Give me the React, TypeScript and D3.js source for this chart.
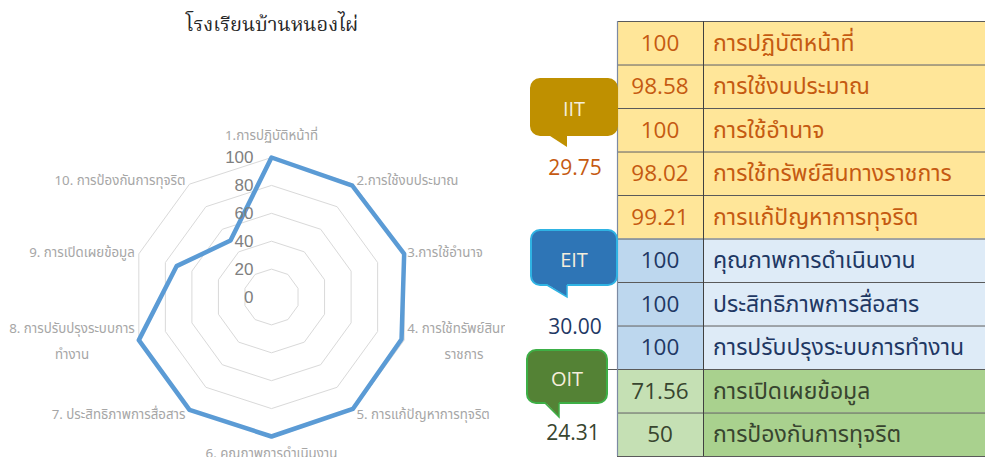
import React, { useEffect, useRef } from "react";
import * as d3 from "d3";

// ---------- data ----------
const chartTitle = "โรงเรียนบ้านหนองไผ่";
const categoryLines: string[][] = [
  ["1.การปฏิบัติหน้าที่"],
  ["2.การใช้งบประมาณ"],
  ["3.การใช้อำนาจ"],
  ["4. การใช้ทรัพย์สินทาง", "ราชการ"],
  ["5. การแก้ปัญหาการทุจริต"],
  ["6. คุณภาพการดำเนินงาน"],
  ["7. ประสิทธิภาพการสื่อสาร"],
  ["8. การปรับปรุงระบบการ", "ทำงาน"],
  ["9. การเปิดเผยข้อมูล"],
  ["10. การป้องกันการทุจริต"],
];
const scores = [100, 98.58, 100, 98.02, 99.21, 100, 100, 100, 71.56, 50];
const radialTicks = [0, 20, 40, 60, 80, 100];

const tableValues = ["100", "98.58", "100", "98.02", "99.21", "100", "100", "100", "71.56", "50"];
const tableLabels = [
  "การปฏิบัติหน้าที่",
  "การใช้งบประมาณ",
  "การใช้อำนาจ",
  "การใช้ทรัพย์สินทางราชการ",
  "การแก้ปัญหาการทุจริต",
  "คุณภาพการดำเนินงาน",
  "ประสิทธิภาพการสื่อสาร",
  "การปรับปรุงระบบการทำงาน",
  "การเปิดเผยข้อมูล",
  "การป้องกันการทุจริต",
];
const rowGroup = [0, 0, 0, 0, 0, 1, 1, 1, 2, 2];
const groupNames = ["IIT", "EIT", "OIT"];
const groupScores = ["29.75", "30.00", "24.31"];

// ---------- styles / layout ----------
const W = 985;
const H = 457;
const thaiFont = "'Noto Sans Thai', 'Noto Sans Thai UI', Tahoma, 'Leelawadee UI', 'Noto Sans', sans-serif";
const groupStyle = [
  { valFill: "#FFE699", txtFill: "#FFE699", text: "#C55A11", bubble: "#BF9000", border: "#BF9000", bx: 531, by: 79, bw: 86, bh: 56, tailX: 547, tailTipX: 567, tailTipY: 147, scoreX: 575, scoreY: 168 },
  { valFill: "#BDD7EE", txtFill: "#DEEBF7", text: "#1F3864", bubble: "#2E75B6", border: "#2FB3E3", bx: 531, by: 230, bw: 86, bh: 55, tailX: 547, tailTipX: 567, tailTipY: 297, scoreX: 575, scoreY: 327 },
  { valFill: "#C5E0B4", txtFill: "#A9D18E", text: "#38452F", bubble: "#548235", border: "#3DAF46", bx: 527, by: 350, bw: 80, bh: 53, tailX: 545, tailTipX: 559, tailTipY: 417, scoreX: 573, scoreY: 433 },
];

const cx = 271.5;
const cy = 297;
const R = 139.5;

function Radar() {
  const ref = useRef<SVGGElement>(null);
  useEffect(() => {
    const g = d3.select(ref.current);
    g.selectAll("*").remove();
    const n = scores.length;
    const r = d3.scaleLinear().domain([0, 100]).range([0, R]);
    const angle = d3.scaleLinear().domain([0, n]).range([0, 2 * Math.PI]);
    const idx = d3.range(n);

    // rings
    const ringLine = d3
      .lineRadial<number>()
      .angle((i) => angle(i))
      .curve(d3.curveLinearClosed);
    radialTicks
      .filter((t) => t > 0)
      .forEach((t) => {
        g.append("path")
          .attr("transform", `translate(${cx},${cy})`)
          .attr("d", ringLine.radius(() => r(t))(idx) as string)
          .attr("fill", "none")
          .attr("stroke", "#D9D9D9")
          .attr("stroke-width", 1);
      });

    // data line
    const dataLine = d3
      .lineRadial<number>()
      .angle((i) => angle(i))
      .radius((i) => r(scores[i]))
      .curve(d3.curveLinearClosed);
    g.append("path")
      .attr("transform", `translate(${cx},${cy})`)
      .attr("d", dataLine(idx) as string)
      .attr("fill", "none")
      .attr("stroke", "#5B9BD5")
      .attr("stroke-width", 4.5)
      .attr("stroke-linejoin", "round");

    // tick labels
    g.selectAll("text.tick")
      .data(radialTicks)
      .join("text")
      .attr("class", "tick")
      .attr("x", cx - 18)
      .attr("y", (t) => cy - r(t))
      .attr("dy", "0.35em")
      .attr("text-anchor", "end")
      .attr("font-family", "'Liberation Sans', Arial, sans-serif")
      .attr("font-size", 17)
      .attr("fill", "#7F7F7F")
      .text((t) => String(t));

    // category labels
    const lineGap = 26;
    idx.forEach((i) => {
      const a = angle(i);
      const sx = Math.sin(a);
      const cyA = Math.cos(a);
      const vx = cx + R * sx;
      const vy = cy - R * cyA;
      const lines = categoryLines[i];
      const t = g
        .append("text")
        .attr("font-family", thaiFont)
        .attr("font-size", 13.3)
        .attr("fill", "#A6A6A6");
      const spans = lines.map((ln) => t.append("tspan").text(ln));
      const widths = spans.map((s) => (s.node() as SVGTSpanElement).getComputedTextLength());
      const maxW = d3.max(widths) || 0;
      let bx: number;
      if (sx > 0.1) bx = vx + 3 + maxW / 2;
      else if (sx < -0.1) bx = vx - 4 - maxW / 2;
      else bx = vx;
      let by: number;
      if (cyA > 0.9) by = vy - 22;
      else if (cyA < -0.9) by = vy + 17;
      else by = vy - 5 * cyA;
      const y0 = by - ((lines.length - 1) * lineGap) / 2;
      spans.forEach((s, k) => {
        s.attr("x", bx).attr("y", y0 + k * lineGap).attr("dy", "0.35em").attr("text-anchor", "middle");
      });
    });
  }, []);
  return <g ref={ref} clipPath="url(#radarClip)" />;
}

export default function App() {
  const band = d3
    .scaleBand<number>()
    .domain(d3.range(tableValues.length))
    .range([21, 456])
    .paddingInner(0);
  const tableX0 = 617;
  const tableX1 = 703;
  const tableX2 = 990;

  return (
    <svg
      width={W}
      height={H}
      viewBox={`0 0 ${W} ${H}`}
      style={{ position: "absolute", left: 0, top: 0, background: "#fff" }}
    >
      <defs>
        <clipPath id="radarClip">
          <rect x={0} y={0} width={505} height={H} />
        </clipPath>
      </defs>
      <rect x={0} y={0} width={W} height={H} fill="#fff" />
      <text
        x={272}
        y={26}
        textAnchor="middle"
        dominantBaseline="middle"
        fontFamily="'Noto Serif Thai', 'Angsana New', serif"
        fontSize={20}
        fill="#262626"
      >
        {chartTitle}
      </text>
      <Radar />

      {/* table */}
      {tableValues.map((v, i) => {
        const st = groupStyle[rowGroup[i]];
        const y = band(i) as number;
        const h = band.bandwidth();
        return (
          <g key={i}>
            <rect x={tableX0} y={y} width={tableX1 - tableX0} height={h} fill={st.valFill} />
            <rect x={tableX1} y={y} width={tableX2 - tableX1} height={h} fill={st.txtFill} />
            <text
              x={(tableX0 + tableX1) / 2}
              y={y + h / 2}
              dy="0.35em"
              textAnchor="middle"
              fontFamily="'Open Sans', 'Noto Sans', sans-serif"
              fontSize={22.5}
              fill={st.text}
            >
              {v}
            </text>
            <text
              x={tableX1 + 10}
              y={y + h / 2}
              dy="0.35em"
              fontFamily={thaiFont}
              fontSize={23}
              fill={st.text}
            >
              {tableLabels[i]}
            </text>
          </g>
        );
      })}
      {/* grid lines */}
      {d3.range(tableValues.length + 1).map((i) => {
        const y = i < tableValues.length ? (band(i) as number) : 456;
        return <line key={"h" + i} x1={tableX0} x2={tableX2} y1={y + 0.5} y2={y + 0.5} stroke="#5A5A5A" strokeWidth={1} />;
      })}
      <line x1={tableX0 + 0.5} x2={tableX0 + 0.5} y1={21} y2={456} stroke="#7C8AA3" strokeWidth={1.2} />
      <line x1={tableX1 + 0.5} x2={tableX1 + 0.5} y1={21} y2={456} stroke="#404040" strokeWidth={1} />
      {/* line extending left at EIT/OIT boundary */}
      <line x1={600} x2={tableX0} y1={(band(8) as number) + 0.5} y2={(band(8) as number) + 0.5} stroke="#5A5A5A" strokeWidth={1} />

      {/* callouts */}
      {groupNames.map((name, gi) => {
        const st = groupStyle[gi];
        const bottom = st.by + st.bh;
        return (
          <g key={name}>
            <rect x={st.bx} y={st.by} width={st.bw} height={st.bh} rx={9} fill={st.bubble} stroke={st.border} strokeWidth={2} />
            <path
              d={`M${st.tailX},${bottom - 1} L${st.tailTipX},${st.tailTipY} L${st.tailTipX},${bottom - 1} Z`}
              fill={st.bubble}
            />
            <path
              d={`M${st.tailX},${bottom} L${st.tailTipX},${st.tailTipY} L${st.tailTipX},${bottom}`}
              fill="none"
              stroke={st.border}
              strokeWidth={gi === 0 ? 0 : 1.5}
            />
            <text
              x={st.bx + st.bw / 2}
              y={st.by + st.bh / 2 + 2}
              dy="0.35em"
              textAnchor="middle"
              fontFamily="'Open Sans', 'Noto Sans', sans-serif"
              fontSize={20}
              fill="#F4EEDC"
            >
              {name}
            </text>
            <text
              x={st.scoreX}
              y={st.scoreY}
              dy="0.35em"
              textAnchor="middle"
              fontFamily="'Open Sans', 'Noto Sans', sans-serif"
              fontSize={21}
              fill={st.text}
            >
              {groupScores[gi]}
            </text>
          </g>
        );
      })}
    </svg>
  );
}
